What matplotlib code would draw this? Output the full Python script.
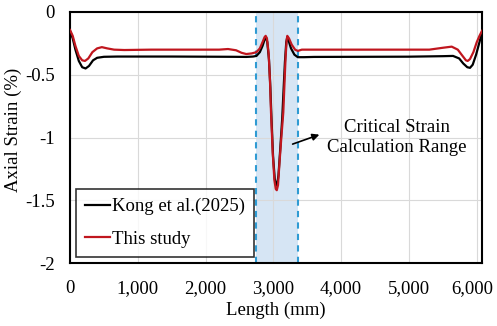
import matplotlib
matplotlib.use("Agg")
import matplotlib.pyplot as plt
from matplotlib.transforms import ScaledTranslation

# Kong et al. (2025)
kong_x = [0, 40, 80, 130, 180, 230, 280, 340, 400, 500, 700, 1500, 2400, 2600, 2700, 2750,
          2800, 2840, 2870, 2890, 2910, 2935, 2955, 2972, 2995, 3020, 3040, 3055, 3075, 3100,
          3130, 3150, 3170, 3190, 3205, 3225, 3260, 3310, 3360, 3450, 3600, 5000, 5500, 5650,
          5740, 5800, 5860, 5900, 5940, 5990, 6040, 6077]
kong_y = [-0.15, -0.21, -0.30, -0.39, -0.44, -0.45, -0.43, -0.385, -0.365, -0.357, -0.355, -0.355,
          -0.357, -0.358, -0.355, -0.35, -0.32, -0.27, -0.22, -0.20, -0.24, -0.38, -0.60, -0.85,
          -1.15, -1.33, -1.38, -1.38, -1.30, -1.10, -0.85, -0.62, -0.40, -0.24, -0.20, -0.23,
          -0.29, -0.34, -0.36, -0.36, -0.358, -0.356, -0.352, -0.35, -0.37, -0.41, -0.44, -0.445,
          -0.42, -0.34, -0.24, -0.16]

# This study
study_x = [0, 40, 80, 130, 180, 221, 270, 330, 400, 470, 550, 650, 800, 1200, 1800, 2200, 2330,
           2450, 2530, 2600, 2680, 2750, 2800, 2840, 2870, 2886, 2905, 2930, 2950, 2965, 2990,
           3015, 3035, 3050, 3068, 3090, 3120, 3146, 3165, 3180, 3195, 3205, 3230, 3270, 3320,
           3360, 3420, 3500, 4500, 5300, 5500, 5630, 5720, 5790, 5840, 5866, 5900, 5950, 6000,
           6040, 6077]
study_y = [-0.143, -0.19, -0.27, -0.35, -0.385, -0.39, -0.37, -0.32, -0.29, -0.28, -0.29, -0.30,
           -0.303, -0.30, -0.30, -0.30, -0.295, -0.305, -0.325, -0.335, -0.33, -0.32, -0.29,
           -0.24, -0.20, -0.19, -0.21, -0.33, -0.55, -0.80, -1.12, -1.34, -1.41, -1.42, -1.38,
           -1.20, -0.98, -0.80, -0.55, -0.36, -0.23, -0.19, -0.21, -0.26, -0.30, -0.31, -0.30,
           -0.30, -0.30, -0.30, -0.285, -0.276, -0.30, -0.35, -0.385, -0.39, -0.375, -0.32,
           -0.24, -0.19, -0.15]

range_lo, range_hi = 2750, 3360
x_ticks = [0, 1000, 2000, 3000, 4000, 5000, 6000]
x_tick_labels = ["0", "1,000", "2,000", "3,000", "4,000", "5,000", "6,000"]
y_ticks = [0, -0.5, -1, -1.5, -2]
y_tick_labels = ["0", "-0.5", "-1", "-1.5", "-2"]

plt.rcParams['font.family'] = ['Liberation Serif', 'DejaVu Serif']
fs = 13.5

fig = plt.figure(figsize=(4.97, 3.26), dpi=100)
ax = fig.add_axes([70/497, (326-263)/326, 412/497, 251/326])

ax.axvspan(range_lo, range_hi, color='#d6e5f4', zorder=0.5, lw=0)
for xv in (range_lo, range_hi):
    ax.axvline(xv, color='#2f9bd3', ls=(0, (3, 2.5)), lw=1.5, zorder=1)

ax.plot(kong_x, kong_y, color='black', lw=1.6, label='Kong et al.(2025)', zorder=3)
ax.plot(study_x, study_y, color='#c0161e', lw=1.6, label='This study', zorder=4)

ax.set_xlim(0, 6077)
ax.set_ylim(-2, 0)
ax.set_xticks(x_ticks)
ax.set_xticklabels(x_tick_labels)
ax.set_yticks(y_ticks)
ax.set_yticklabels(y_tick_labels)
ax.tick_params(length=0, labelsize=fs)
ax.tick_params(axis='x', pad=12)
ax.tick_params(axis='y', pad=11)
ax.grid(True, color='#d9d9d9', lw=0.8, zorder=0)
ax.set_axisbelow(True)
for s in ax.spines.values():
    s.set_linewidth(1.5)
    s.set_color('black')

# shift last x tick label a little left so it stays inside the figure
last = ax.get_xticklabels()[-1]
last.set_transform(last.get_transform() + ScaledTranslation(-5/100, 0, fig.dpi_scale_trans))

ax.set_xlabel('Length (mm)', fontsize=fs)
ax.set_ylabel('Axial Strain (%)', fontsize=fs)
ax.xaxis.set_label_coords(0.5, -0.155)
ax.yaxis.set_label_coords(-0.117, 0.53)

ax.annotate('', xy=(3717, -0.97), xytext=(3245, -1.06),
            arrowprops=dict(arrowstyle='-|>', color='black', lw=1.2, mutation_scale=10), zorder=5)
ax.text(4823, -1.0, 'Critical Strain\nCalculation Range', ha='center', va='center',
        fontsize=fs, linespacing=1.2, zorder=5)

leg = ax.legend(loc='lower left', bbox_to_anchor=(0.0146, 0.024), borderaxespad=0,
                fontsize=fs, fancybox=False, frameon=True, edgecolor='black',
                handlelength=1.3, handletextpad=0.1, labelspacing=0.8,
                borderpad=0.5)
leg.get_frame().set_linewidth(1.2)
leg.set_zorder(6)

fig.savefig('out.png', dpi=100)
